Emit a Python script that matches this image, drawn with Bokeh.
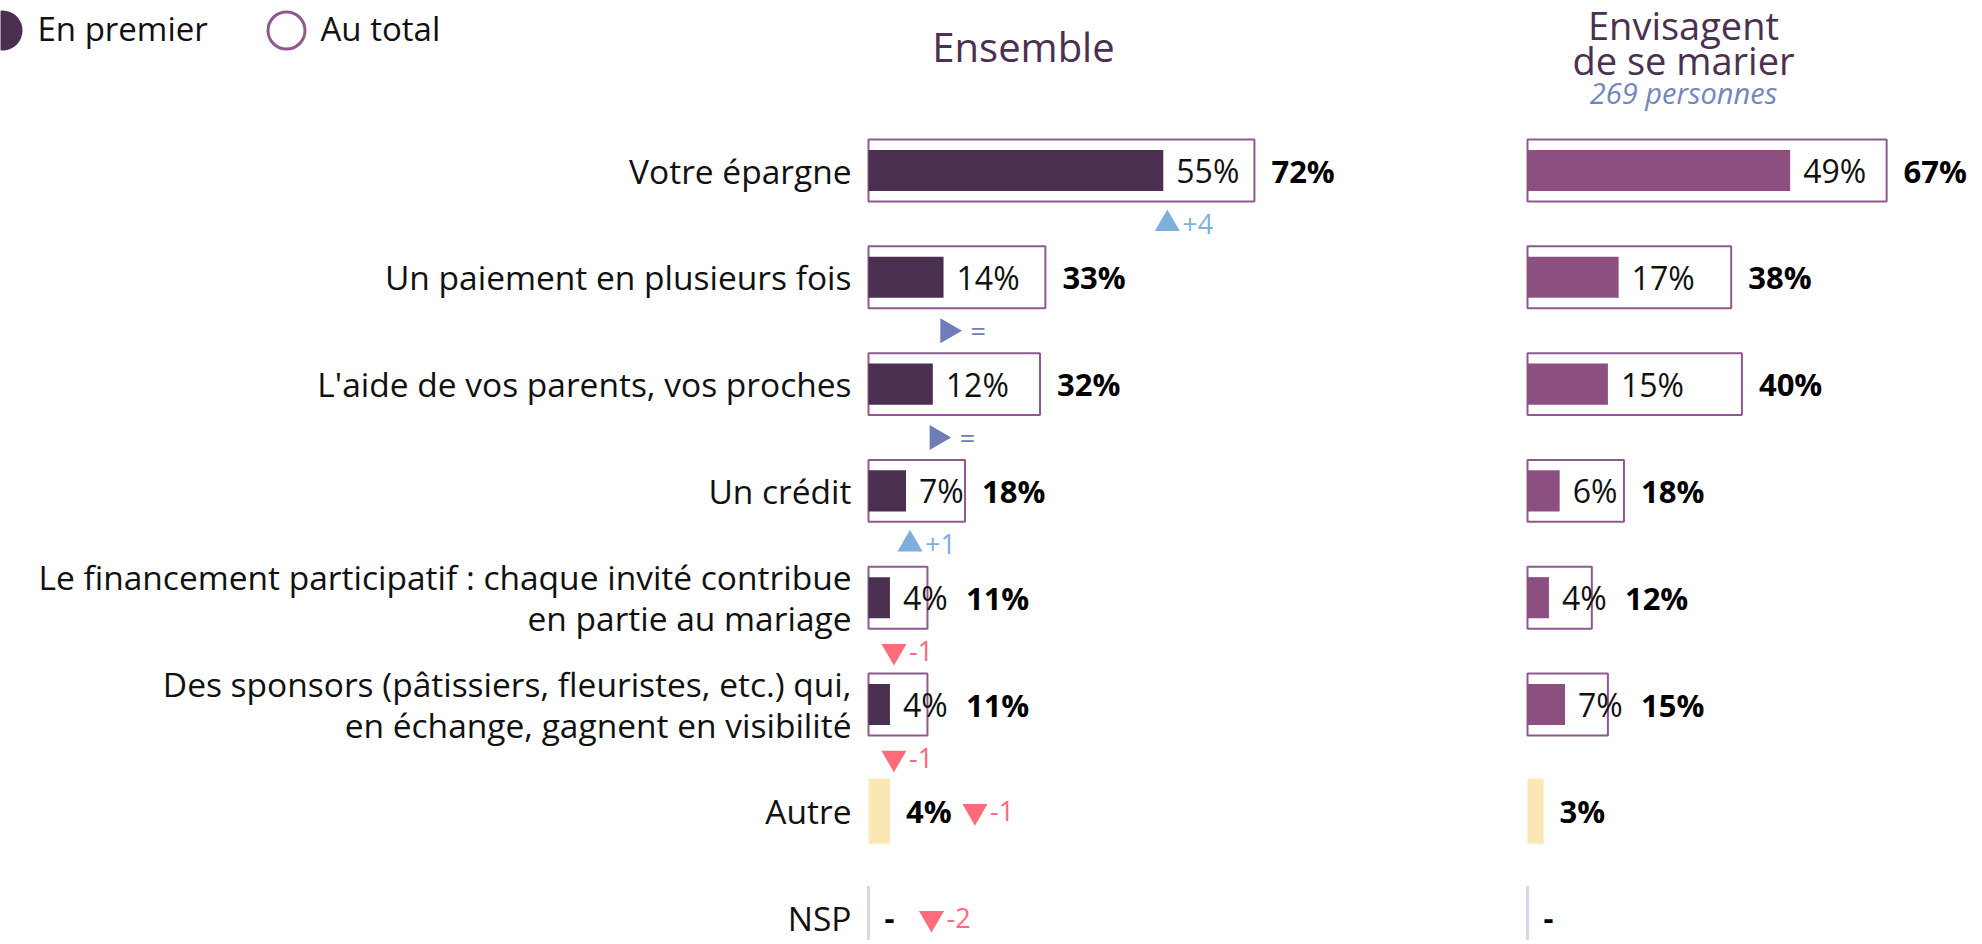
import math
from bokeh.plotting import figure
from bokeh.layouts import row
from bokeh.models import Range1d, ColumnDataSource
from bokeh.core.properties import value
from bokeh.embed import file_html
from bokeh.resources import INLINE

# ---------------- data ----------------
categories = [
    "Votre épargne",
    "Un paiement en plusieurs fois",
    "L'aide de vos parents, vos proches",
    "Un crédit",
    "Le financement participatif : chaque invité contribue\nen partie au mariage",
    "Des sponsors (pâtissiers, fleuristes, etc.) qui,\nen échange, gagnent en visibilité",
    "Autre",
    "NSP",
]
ens_premier = [55, 14, 12, 7, 4, 4, None, None]
ens_total = [72, 33, 32, 18, 11, 11, 4, 0]
ens_delta = [4, 0, 0, 1, -1, -1, -1, -2]
env_premier = [49, 17, 15, 6, 4, 7, None, None]
env_total = [67, 38, 40, 18, 12, 15, 3, 0]
legend_labels = ["En premier", "Au total"]
ens_title = ["Ensemble"]
env_title = ["Envisagent", "de se marier"]
env_subtitle = "269 personnes"

# ---------------- style ----------------
FONT = "Open Sans"
DARK = "#4B2F50"
ENVC = "#8B4F80"
BOX = "#8E5A8E"
YEL = "#FBE7B4"
NSP_LINE = "#D5D7EB"
UP = "#7FAEDB"
EQ = "#6E7DB6"
DOWN = "#FF6B7B"
TITLE = "#4B3050"
SUB = "#7486BB"

PX = 5.36          # pixels per percentage point
ROW_PX = 106.8     # pixels per row
FIRST = 170.0      # first row centre (px from top of figure)
H = 940

def yp(px):
    return (px - FIRST) / ROW_PX

yr = Range1d(start=(H - FIRST) / ROW_PX, end=-FIRST / ROW_PX)


def base_fig(width, xr):
    p = figure(width=width, height=H, x_range=xr, y_range=yr,
               output_backend="svg", toolbar_location=None,
               x_axis_location=None, y_axis_location=None, min_border=0,
               tools="")
    p.grid.visible = False
    p.outline_line_color = None
    p.background_fill_color = "white"
    p.border_fill_color = "white"
    return p

# ---------------- label column ----------------
LW = 860
pl = base_fig(LW, Range1d(0, LW))
lx, ly, lt = [], [], []
for i, c in enumerate(categories):
    lines = c.split("\n")
    n = len(lines)
    for j, s in enumerate(lines):
        lx.append(851)
        ly.append(i + (j - (n - 1) / 2) * (41 / ROW_PX))
        lt.append(s)
pl.text(x=lx, y=ly, text=lt, text_align="right", text_baseline="middle",
        text_font=value(FONT), text_font_size="33.5px", text_color="#111111")
# legend
pl.scatter(x=[2], y=[yp(30)], size=40, marker="circle", fill_color=DARK, line_color=None)
pl.scatter(x=[286], y=[yp(30)], size=37, marker="circle", fill_color="white",
           line_color=BOX, line_width=3)
pl.text(x=[37, 320], y=[yp(28), yp(28)], text=legend_labels, text_align="left",
        text_baseline="middle", text_font=value(FONT), text_font_size="33px",
        text_color="#111111")


def panel(width, zero_px, premier, total, deltas, bar_color):
    xr = Range1d(-zero_px / PX, (width - zero_px) / PX)
    p = base_fig(width, xr)
    bi = [i for i, v in enumerate(premier) if v is not None]
    bt = [total[i] for i in bi]
    bp = [premier[i] for i in bi]
    p.hbar(y=bi, left=0, right=bt, height=0.58, fill_color="white",
           line_color=BOX, line_width=2)
    p.hbar(y=bi, left=0, right=bp, height=0.385, fill_color=bar_color, line_color=None)
    p.text(x=bp, y=bi, text=[f"{v}%" for v in bp], x_offset=13, text_align="left",
           text_baseline="middle", text_font=value(FONT), text_font_size="32px",
           text_color="#111111")
    p.text(x=[max(t, v + 11) for t, v in zip(bt, bp)], y=bi, text=[f"{t}%" for t in bt],
           x_offset=17, text_align="left", text_baseline="middle", text_font=value(FONT),
           text_font_size="31px", text_font_style="bold", text_color="#000000")
    # rows without "en premier"
    oi = [i for i, v in enumerate(premier) if v is None]
    yi = [i for i in oi if total[i] > 0]
    zi = [i for i in oi if total[i] == 0]
    p.hbar(y=yi, left=0, right=[total[i] for i in yi], height=0.61, fill_color=YEL,
           line_color=None)
    p.segment(x0=[0] * len(zi), x1=[0] * len(zi), y0=[i - 0.3 for i in zi],
              y1=[i + 0.4 for i in zi], line_color=NSP_LINE, line_width=3)
    olab = [f"{total[i]}%" if total[i] > 0 else "-" for i in oi]
    p.text(x=[total[i] for i in oi], y=oi, text=olab, x_offset=16, text_align="left",
           text_baseline="middle", text_font=value(FONT), text_font_size="31px",
           text_font_style="bold", text_color="#000000")
    # evolution markers
    if deltas is not None:
        tx, ty, tm, ta, tc, lt2, to = [], [], [], [], [], [], []
        for i, d in enumerate(deltas):
            if premier[i] is not None:
                x = premier[i] + 4 / PX
                y = i + 0.5
            else:
                lab = olab[oi.index(i)]
                x = total[i] + (16 + 22 * len(lab) + 25) / PX
                y = i
            tx.append(x); ty.append(y)
            if d > 0:
                tm.append("triangle"); ta.append(0); tc.append(UP); lt2.append(f"+{d}"); to.append(15)
            elif d < 0:
                tm.append("inverted_triangle"); ta.append(0); tc.append(DOWN); lt2.append(f"-{abs(d)}"); to.append(15)
            else:
                tm.append("triangle"); ta.append(-math.pi / 2); tc.append(EQ); lt2.append("="); to.append(23)
        src = ColumnDataSource(dict(x=tx, y=ty, m=tm, a=ta, c=tc, t=lt2, o=to))
        p.scatter(x="x", y="y", marker="m", angle="a", fill_color="c", line_color=None,
                  size=25, source=src)
        p.text(x="x", y="y", text="t", text_color="c", x_offset="o", text_align="left",
               text_baseline="middle", text_font=value(FONT), text_font_size="27px",
               source=src)
    return p

EW = 640
pe = panel(EW, 8, ens_premier, ens_total, ens_delta, DARK)
pe.text(x=[(1023 - 868) / PX], y=[yp(45.5)], text=ens_title, text_align="center",
        text_baseline="middle", text_font=value(FONT), text_font_size="40px",
        text_color=TITLE)

VW = 474
pv = panel(VW, 27, env_premier, env_total, None, ENVC)
cx = (1683 - 1527) / PX
pv.text(x=[cx, cx], y=[yp(24), yp(59)], text=env_title, text_align="center",
        text_baseline="middle", text_font=value(FONT), text_font_size="38px",
        text_color=TITLE)
pv.text(x=[cx], y=[yp(92)], text=[env_subtitle], text_align="center",
        text_baseline="middle", text_font=value(FONT), text_font_size="29px",
        text_font_style="italic", text_color=SUB)

layout = row(pl, pe, pv)
open("out.html", "w").write(file_html(layout, INLINE))
